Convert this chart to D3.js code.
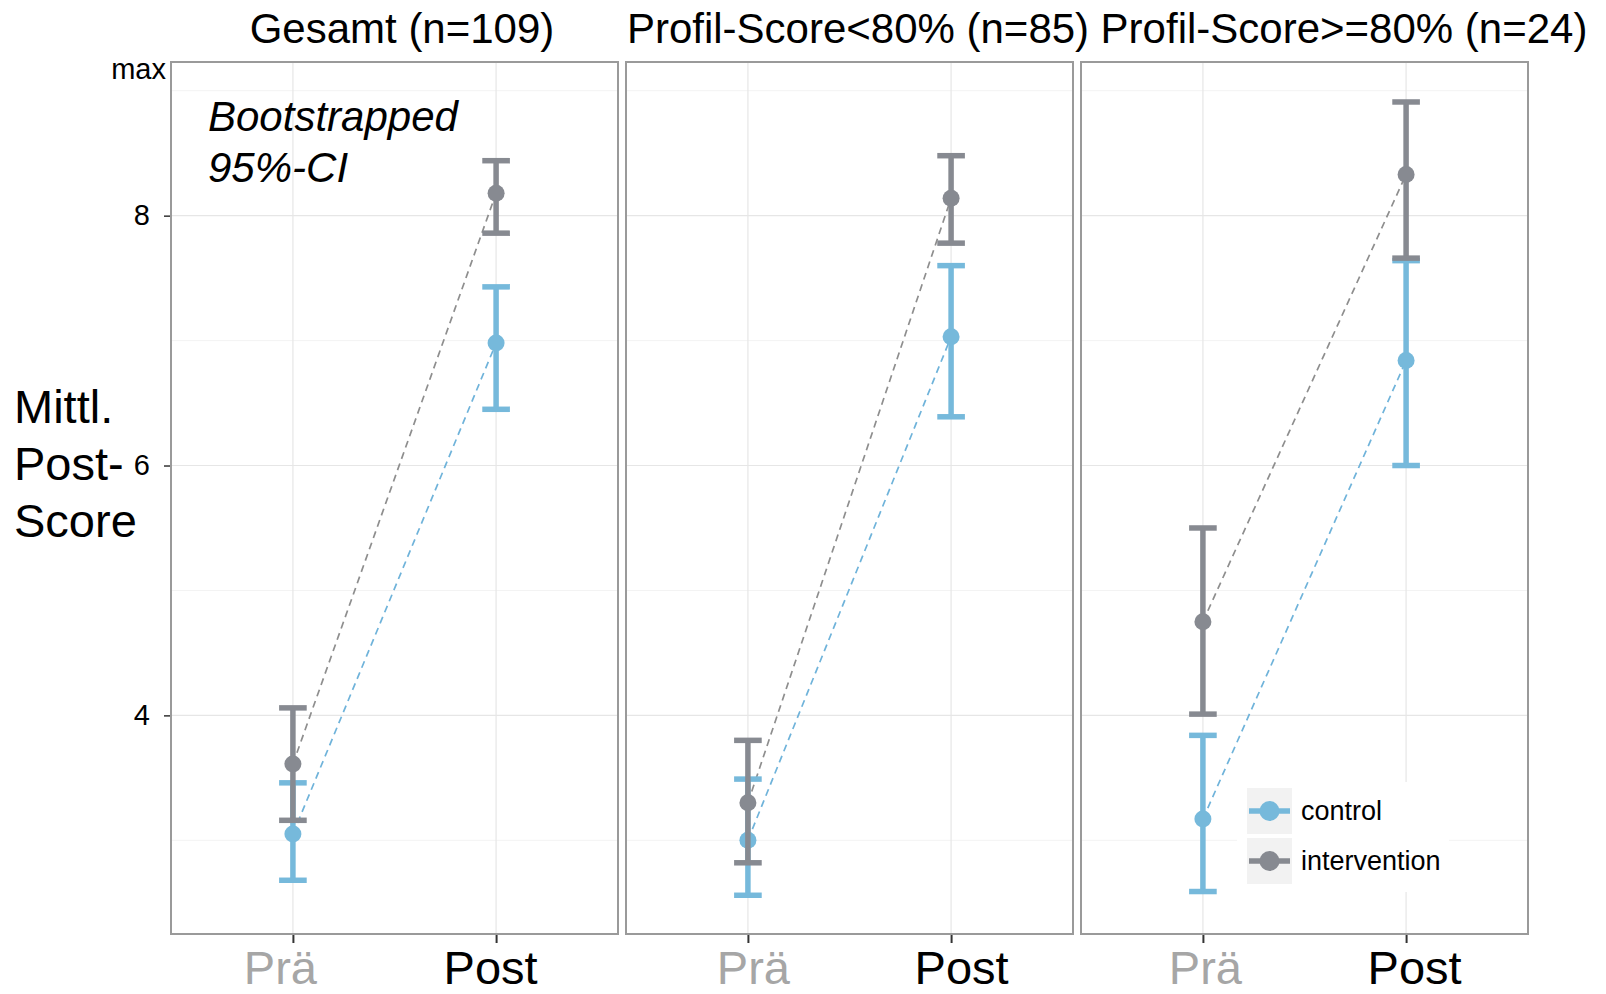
<!DOCTYPE html>
<html lang="de">
<head>
  <meta charset="UTF-8">
  <title>Mittl. Post-Score</title>
  <style>
    body {
      margin: 0;
      background: #fff;
      font-family: "Liberation Sans", Arial, sans-serif;
    }
    svg text {
      font-family: "Liberation Sans", Arial, sans-serif;
    }
  </style>
  <script src="https://d3js.org/d3.v7.min.js"></script>
</head>
<body>
  <div id="chart"></div>

  <script>
    // facet titles, x categories, groups
    const panelTitles = ["Gesamt (n=109)", "Profil-Score<80% (n=85)", "Profil-Score>=80% (n=24)"];
    const times = ["Prä", "Post"];
    const groups = ["control", "intervention"];

    // means and bootstrapped 95%-CI, per panel: [Prä, Post]
    const controlMean = [[3.05, 6.98], [3.00, 7.03], [3.17, 6.84]];
    const controlLow  = [[2.68, 6.45], [2.56, 6.39], [2.59, 6.00]];
    const controlHigh = [[3.46, 7.43], [3.49, 7.60], [3.84, 7.64]];

    const interventionMean = [[3.61, 8.18], [3.30, 8.14], [4.75, 8.33]];
    const interventionLow  = [[3.16, 7.86], [2.82, 7.78], [4.01, 7.66]];
    const interventionHigh = [[4.06, 8.44], [3.80, 8.48], [5.50, 8.91]];

    // y axis
    const yTicks = [4, 6, 8, 9.17];
    const yTickLabels = ["4", "6", "8", "max"];
    const yMinorGrid = [3, 5, 7, 9];

    const colors = {control: "#76b9db", intervention: "#878a91"};
    const lineColors = {control: "#6fb3da", intervention: "#8e8e8e"};

    const W = 1606, H = 994;
    const panelLeft = [171, 626, 1081];
    const panelW = 447;
    const panelTop = 62, panelBottom = 934;
    const titleX = [402, 858, 1344];
    // small horizontal shifts of the x labels as in the original
    const xLabelShift = [[-13, -6], [5, 10], [2, 8]];

    const svg = d3.select("#chart").append("svg")
      .attr("width", W)
      .attr("height", H);

    const y = d3.scaleLinear()
      .domain([2.25, 9.23])
      .range([panelBottom, panelTop]);

    const series = groups.map(g => ({
      group: g,
      mean: g === "control" ? controlMean : interventionMean,
      low: g === "control" ? controlLow : interventionLow,
      high: g === "control" ? controlHigh : interventionHigh
    }));

    panelTitles.forEach(function(title, p) {
      const x = d3.scalePoint()
        .domain(times)
        .range([panelLeft[p], panelLeft[p] + panelW])
        .padding(0.6);
      const capHalf = x.step() * 0.068;

      const g = svg.append("g");

      // minor grid
      g.selectAll(".minor").data(yMinorGrid).enter().append("line")
        .attr("x1", panelLeft[p]).attr("x2", panelLeft[p] + panelW)
        .attr("y1", d => y(d)).attr("y2", d => y(d))
        .attr("stroke", "#f3f3f3").attr("stroke-width", 1);

      // major grid
      g.selectAll(".major").data([4, 6, 8]).enter().append("line")
        .attr("x1", panelLeft[p]).attr("x2", panelLeft[p] + panelW)
        .attr("y1", d => y(d)).attr("y2", d => y(d))
        .attr("stroke", "#e6e6e6").attr("stroke-width", 1.2);

      g.selectAll(".vgrid").data(times).enter().append("line")
        .attr("x1", d => x(d)).attr("x2", d => x(d))
        .attr("y1", panelTop).attr("y2", panelBottom)
        .attr("stroke", "#e6e6e6").attr("stroke-width", 1.2);

      // dashed connection lines
      series.forEach(function(s) {
        g.append("line")
          .attr("x1", x(times[0])).attr("y1", y(s.mean[p][0]))
          .attr("x2", x(times[1])).attr("y2", y(s.mean[p][1]))
          .attr("stroke", lineColors[s.group])
          .attr("stroke-width", 1.7)
          .attr("stroke-dasharray", "7,5");
      });

      // error bars and points
      series.forEach(function(s) {
        times.forEach(function(t, i) {
          const cx = x(t);
          g.append("line")
            .attr("x1", cx).attr("x2", cx)
            .attr("y1", y(s.low[p][i])).attr("y2", y(s.high[p][i]))
            .attr("stroke", colors[s.group]).attr("stroke-width", 5.5);
          [s.low[p][i], s.high[p][i]].forEach(function(v) {
            g.append("line")
              .attr("x1", cx - capHalf).attr("x2", cx + capHalf)
              .attr("y1", y(v)).attr("y2", y(v))
              .attr("stroke", colors[s.group]).attr("stroke-width", 5.5);
          });
          g.append("circle")
            .attr("cx", cx).attr("cy", y(s.mean[p][i]))
            .attr("r", 8.5)
            .attr("fill", colors[s.group]);
        });
      });

      // panel border
      g.append("rect")
        .attr("x", panelLeft[p]).attr("y", panelTop)
        .attr("width", panelW).attr("height", panelBottom - panelTop)
        .attr("fill", "none")
        .attr("stroke", "#9a9a9a")
        .attr("stroke-width", 2);

      // x axis
      const xAxis = g.append("g")
        .attr("transform", `translate(0, ${panelBottom + 1})`)
        .call(d3.axisBottom(x).tickSize(8).tickPadding(8));
      xAxis.select(".domain").remove();
      xAxis.selectAll(".tick line").attr("stroke", "#333").attr("stroke-width", 2);
      xAxis.selectAll(".tick text")
        .style("font-size", "47px")
        .attr("dy", "0.71em")
        .attr("dx", (d, i) => xLabelShift[p][i])
        .attr("fill", d => d === "Prä" ? "#a6a6a6" : "#000");

      // facet title
      svg.append("text")
        .attr("x", titleX[p])
        .attr("y", 43)
        .attr("text-anchor", "middle")
        .style("font-size", "42px")
        .attr("fill", "#000")
        .text(title);
    });

    // y axis on first panel
    const yAxis = svg.append("g")
      .attr("transform", `translate(${panelLeft[0] - 1}, 0)`)
      .call(d3.axisLeft(y)
        .tickValues(yTicks)
        .tickFormat((d, i) => yTickLabels[i])
        .tickSize(6)
        .tickPadding(14));
    yAxis.select(".domain").remove();
    yAxis.selectAll(".tick line").attr("stroke", "#333").attr("stroke-width", 1.5);
    yAxis.selectAll(".tick text")
      .style("font-size", "29px")
      .attr("fill", "#000");
    yAxis.selectAll(".tick").filter(d => d > 9)
      .call(t => t.select("line").remove())
      .call(t => t.select("text").attr("x", -4).style("font-size", "29px"));

    // y axis title
    const yTitle = svg.append("text")
      .style("font-size", "47px")
      .attr("fill", "#000");
    ["Mittl.", "Post-", "Score"].forEach(function(line, i) {
      yTitle.append("tspan")
        .attr("x", 14)
        .attr("y", 423 + i * 57)
        .text(line);
    });

    // annotation
    const note = svg.append("text")
      .style("font-size", "42px")
      .style("font-style", "italic")
      .attr("fill", "#000");
    note.append("tspan").attr("x", 208).attr("y", 131).text("Bootstrapped");
    note.append("tspan").attr("x", 208).attr("y", 182).text("95%-CI");

    // legend
    const legend = svg.append("g");
    legend.append("rect")
      .attr("x", 1237).attr("y", 782)
      .attr("width", 212).attr("height", 110)
      .attr("fill", "#fff");
    groups.forEach(function(gName, i) {
      const ky = 788 + i * 50;
      legend.append("rect")
        .attr("x", 1247).attr("y", ky)
        .attr("width", 45).attr("height", 46)
        .attr("fill", "#f2f2f2");
      legend.append("line")
        .attr("x1", 1249).attr("x2", 1290)
        .attr("y1", ky + 23).attr("y2", ky + 23)
        .attr("stroke", colors[gName]).attr("stroke-width", 5.5);
      legend.append("circle")
        .attr("cx", 1269.5).attr("cy", ky + 23)
        .attr("r", 10)
        .attr("fill", colors[gName]);
      legend.append("text")
        .attr("x", 1301)
        .attr("y", ky + 23)
        .attr("dy", "0.35em")
        .style("font-size", "27px")
        .attr("fill", "#000")
        .text(gName);
    });
  </script>
</body>
</html>
